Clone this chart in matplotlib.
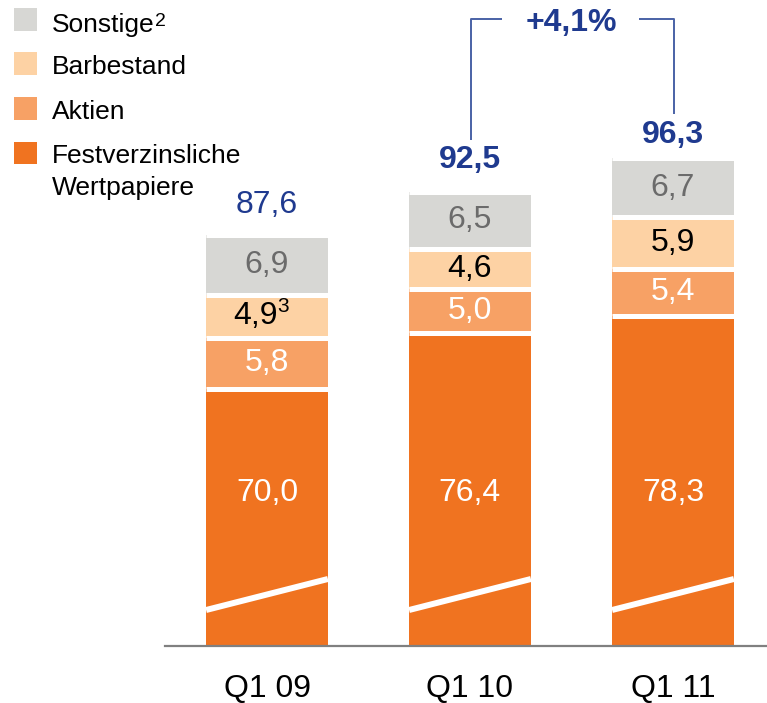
import matplotlib
matplotlib.use("Agg")
import matplotlib.pyplot as plt
from matplotlib.patches import Rectangle

plt.rcParams['font.family'] = ['Liberation Sans', 'DejaVu Sans']

# ---- data ----
categories = ["Q1 09", "Q1 10", "Q1 11"]
festverzinsliche = [70.0, 76.4, 78.3]
aktien = [5.8, 5.0, 5.4]
barbestand = [4.9, 4.6, 5.9]
sonstige = [6.9, 6.5, 6.7]
totals = [87.6, 92.5, 96.3]
barbestand_notes = ["3", "", ""]
growth_label = "+4,1%"
legend_labels = ["Sonstige", "Barbestand", "Aktien", "Festverzinsliche\nWertpapiere"]
legend_notes = ["2", "", "", ""]

# ---- style ----
C_ORANGE = "#F07320"
C_SALMON = "#F7A165"
C_BEIGE = "#FDD2A4"
C_GRAY = "#D7D7D4"
C_BLUE = "#1F3A8F"
C_BRACKET = "#4A62A6"
C_GRAYTXT = "#6B6B6B"

W, H = 767, 703
fig = plt.figure(figsize=(W / 100, H / 100), dpi=100)

base_px = 645
px_per_unit = 8.75
v0 = 40.7
ytop = v0 + base_px / px_per_unit
ax = fig.add_axes([0, (H - base_px) / H, 1, base_px / H])
x_unit = 203.0
x0_px = 267.0
ax.set_xlim(-x0_px / x_unit, (W - x0_px) / x_unit)
ax.set_ylim(v0, ytop)
ax.axis("off")


def py2v(py):
    return v0 + (base_px - py) / px_per_unit


def px2x(px):
    return (px - x0_px) / x_unit


def fmt(v):
    return f"{v:.1f}".replace(".", ",")


xs = list(range(len(categories)))
bw = 0.60
gap_lw = 5 * 72 / 100  # 5 px white gap

series = [festverzinsliche, aktien, barbestand, sonstige]
colors = [C_ORANGE, C_SALMON, C_BEIGE, C_GRAY]
bottoms = [0.0] * len(xs)
for vals, col in zip(series, colors):
    ax.bar(xs, vals, bw, bottom=bottoms, color=col, edgecolor="none", zorder=2)
    bottoms = [b + v for b, v in zip(bottoms, vals)]
    for x, b in zip(xs, bottoms):
        ax.plot([x - bw / 2, x + bw / 2], [b, b], color="white", lw=gap_lw,
                solid_capstyle="butt", zorder=3)

# axis break marks
for x in xs:
    ax.plot([x - bw / 2, x + bw / 2], [py2v(610), py2v(579)], color="white",
            lw=6 * 72 / 100, solid_capstyle="butt", zorder=4)

# baseline
fig.add_artist(plt.Line2D([165 / W, 1], [1 - 646 / H, 1 - 646 / H], color="#808080", lw=1.6))

fs = 23
sup_pending = []
for i, x in enumerate(xs):
    f, a, b, s = festverzinsliche[i], aktien[i], barbestand[i], sonstige[i]
    ax.text(x, py2v(493), fmt(f), ha="center", va="center",
            fontsize=fs, color="white", zorder=5)
    ax.text(x, f + a / 2, fmt(a), ha="center", va="center",
            fontsize=fs, color="white", zorder=5)
    shift = -11 * 0.72 if barbestand_notes[i] else 0
    t = ax.annotate(fmt(b), (x, f + a + b / 2), xytext=(shift, 0),
                    textcoords="offset points", ha="center", va="center",
                    fontsize=fs, color="black", zorder=5)
    if barbestand_notes[i]:
        sup_pending.append((t, barbestand_notes[i], f + a + b / 2))
    ax.text(x, f + a + b + s / 2, fmt(s), ha="center", va="center",
            fontsize=fs, color=C_GRAYTXT, zorder=5)

total_offsets_px = [30, 32, 23]
for i, x in enumerate(xs):
    ax.annotate(fmt(totals[i]), (x, totals[i]),
                xytext=(0, total_offsets_px[i] * 0.72), textcoords="offset points",
                ha="center", va="center", fontsize=fs, color=C_BLUE,
                fontweight="normal" if i == 0 else "bold")

# growth bracket
ax.plot([px2x(470.5), px2x(470.5), px2x(502)], [py2v(140), py2v(19), py2v(19)],
        color=C_BRACKET, lw=1.4, solid_capstyle="butt")
ax.plot([px2x(639), px2x(674), px2x(674)], [py2v(19), py2v(19), py2v(114)],
        color=C_BRACKET, lw=1.4, solid_capstyle="butt")
ax.text(px2x(571), py2v(23), growth_label, ha="center", va="center",
        fontsize=fs, fontweight="bold", color=C_BLUE)

# category labels
for i, x in enumerate(xs):
    fig.text((x0_px + x * x_unit) / W, 1 - 697 / H, categories[i], ha="center",
             va="baseline", fontsize=fs, color="black")

# legend
leg_sq = [(8, 31), (52, 75), (97, 120), (142, 164)]
leg_base = [32, 74, 119, 163]
leg_colors = [C_GRAY, C_BEIGE, C_SALMON, C_ORANGE]
leg_sup = []
for (t0, b0), bl, col, lab, note in zip(leg_sq, leg_base, leg_colors, legend_labels, legend_notes):
    fig.add_artist(Rectangle((14 / W, 1 - b0 / H), 23 / W, (b0 - t0) / H,
                             transform=fig.transFigure, color=col, lw=0))
    lines = lab.split("\n")
    for j, ln in enumerate(lines):
        tt = fig.text(52 / W, 1 - (bl + 32 * j) / H, ln, ha="left", va="baseline",
                      fontsize=19, color="black")
    if note:
        leg_sup.append((tt, note, bl))

# superscript footnote marks placed after their texts
fig.canvas.draw()
renderer = fig.canvas.get_renderer()
for tt, note, bl in leg_sup:
    bb = tt.get_window_extent(renderer)
    fig.text((bb.x1 + 0.5) / W, 1 - 13 / H, note, ha="left", va="top",
             fontsize=14, color="black")
for tt, note, yv in sup_pending:
    bb = tt.get_window_extent(renderer)
    yc = ax.transData.transform((0, yv))[1]
    fig.text((bb.x1 - 0.5) / W, (yc + 19) / H, note, ha="left", va="top",
             fontsize=15, color="black")

fig.savefig("out.png", dpi=100)
